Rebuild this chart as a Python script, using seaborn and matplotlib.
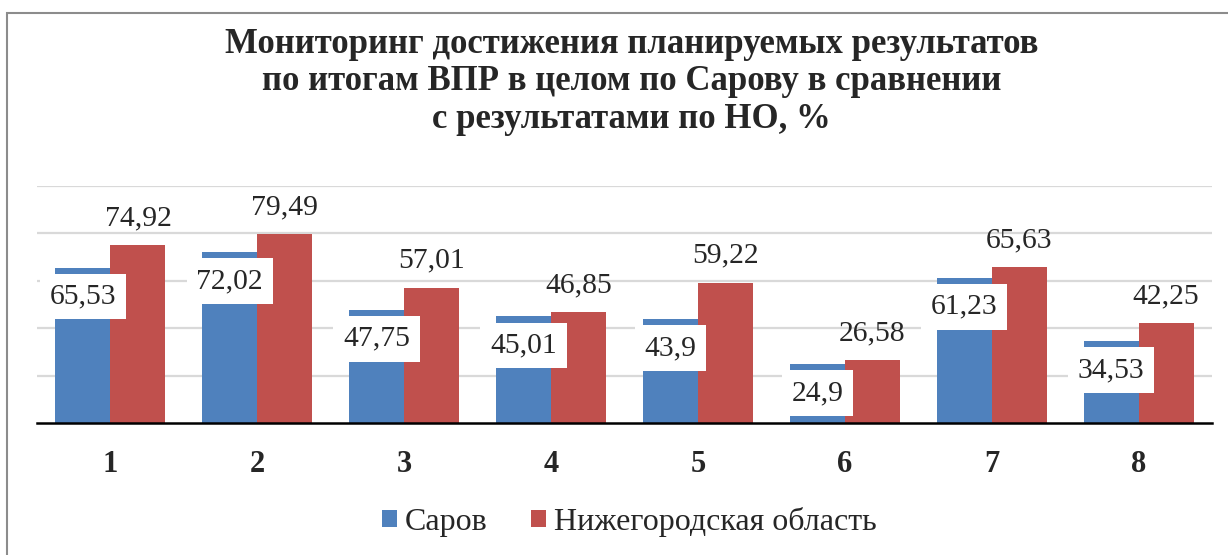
import matplotlib

matplotlib.use("Agg")
import matplotlib.pyplot as plt
import pandas as pd
import seaborn as sns
from matplotlib.patches import Rectangle

# =========================
# Data
# =========================
categories = ["1", "2", "3", "4", "5", "6", "7", "8"]
sarov = [65.53, 72.02, 47.75, 45.01, 43.9, 24.9, 61.23, 34.53]
nizhegorod = [74.92, 79.49, 57.01, 46.85, 59.22, 26.58, 65.63, 42.25]
series_names = ["Саров", "Нижегородская область"]
title = ("Мониторинг достижения планируемых результатов\n"
         "по итогам ВПР в целом по Сарову в сравнении\n"
         "с результатами по НО, %")

BLUE = "#4F81BD"
RED = "#C0504D"

df = pd.DataFrame({"cat": categories, series_names[0]: sarov, series_names[1]: nizhegorod})
long_df = df.melt(id_vars="cat", var_name="series", value_name="value")

# =========================
# Style
# =========================
sns.set_style("white")
plt.rcParams["font.family"] = ["Liberation Serif", "DejaVu Serif"]

fig = plt.figure(figsize=(12.28, 5.55), dpi=100)
ax = fig.add_axes([0.0301, 0.2373, 0.9569, 0.4281])

sns.barplot(
    data=long_df,
    x="cat",
    y="value",
    hue="series",
    palette=[BLUE, RED],
    saturation=1,
    width=0.75,
    linewidth=0,
    ax=ax,
    legend=True,
)

ax.set_ylim(0, 100)
ax.set_yticks([20, 40, 60, 80, 100])
ax.yaxis.grid(True, color="#D9D9D9", linewidth=1.6)
ax.set_axisbelow(True)
ax.tick_params(axis="y", left=False, labelleft=False)
ax.tick_params(axis="x", bottom=False, labelsize=22, pad=16)
for lbl in ax.get_xticklabels():
    lbl.set_fontweight("bold")
ax.set_xlabel("")
ax.set_ylabel("")
for side in ["top", "right", "left"]:
    ax.spines[side].set_visible(False)
ax.spines["bottom"].set_color("black")
ax.spines["bottom"].set_linewidth(1.8)
ax.set_xlim(-0.5, len(categories) - 0.5)

# --- data labels ---
def fmt(v):
    return f"{v:g}".replace(".", ",")

blue_bars, red_bars = ax.containers[0], ax.containers[1]
for bar, v in zip(blue_bars, sarov):
    ax.annotate(
        fmt(v),
        (bar.get_x() + bar.get_width() / 2, v),
        xytext=(0, -29),
        textcoords="offset pixels",
        ha="center",
        va="center",
        fontsize=21.3,
        bbox=dict(boxstyle="square,pad=0.33", facecolor="white", edgecolor="none"),
        zorder=5,
    )
for bar, v in zip(red_bars, nizhegorod):
    ax.annotate(
        fmt(v),
        (bar.get_x() + bar.get_width() / 2, v),
        xytext=(0, 27),
        textcoords="offset pixels",
        ha="center",
        va="center",
        fontsize=21.3,
        zorder=5,
    )

# --- legend ---
handles, labels = ax.get_legend_handles_labels()
ax.legend(
    handles,
    labels,
    loc="center",
    bbox_to_anchor=(629 / 1228, 1 - 522 / 555),
    bbox_transform=fig.transFigure,
    ncol=2,
    frameon=False,
    fontsize=23,
    handlelength=0.47,
    handleheight=0.47,
    handletextpad=0.25,
    columnspacing=1.35,
)

# --- title ---
fig.text(
    0.514,
    1 - 82 / 555,
    title,
    ha="center",
    va="center",
    multialignment="center",
    fontsize=25,
    fontweight="bold",
    linespacing=1.17,
)

# --- chart frame ---
fig.patches.append(
    Rectangle((7 / 1228, -0.1), 1.2, 1 - 13 / 555 + 0.1, transform=fig.transFigure,
              fill=False, edgecolor="#8C8C8C", linewidth=1.5)
)

fig.savefig("out.png", dpi=100, facecolor="white")
